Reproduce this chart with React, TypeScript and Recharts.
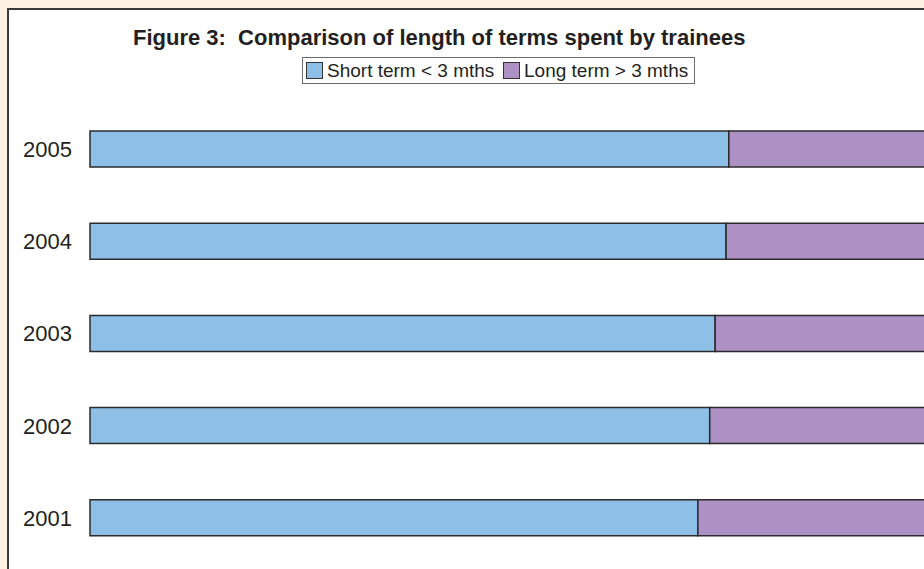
import React from "react";
import { BarChart, Bar, XAxis, YAxis } from "recharts";

const years = ["2001", "2002", "2003", "2004", "2005"];
const shortTerm = [66.8, 68.1, 68.7, 69.9, 70.2];
const longTerm = [33.2, 31.9, 31.3, 30.1, 29.8];

const seriesNames = ["Short term < 3 mths", "Long term > 3 mths"];
const COLORS = ["#8dbfe7", "#ad91c4"];

const FONT = '"Liberation Sans", Arial, sans-serif';

const data = years.map((year, i) => ({
  year,
  short: shortTerm[i],
  long: longTerm[i],
}));

const App = () => {
  return (
    <div
      style={{
        position: "absolute",
        left: 0,
        top: 0,
        width: 924,
        height: 569,
        overflow: "hidden",
        background: "#fdf1e4",
        fontFamily: FONT,
      }}
    >
      <div
        style={{
          position: "absolute",
          left: 7,
          top: 8,
          width: 1100,
          height: 700,
          background: "#ffffff",
          border: "2px solid #3a3a3a",
          boxSizing: "border-box",
        }}
      />
      <div
        style={{
          position: "absolute",
          left: 133,
          top: 27,
          fontSize: 22,
          lineHeight: "22px",
          fontWeight: "bold",
          color: "#231f20",
          whiteSpace: "pre",
        }}
      >
        {"Figure 3:  Comparison of length of terms spent by trainees"}
      </div>
      <div
        style={{
          position: "absolute",
          left: 302,
          top: 57,
          width: 393,
          height: 27,
          border: "1.5px solid #6b6b6b",
          boxSizing: "border-box",
          background: "#ffffff",
        }}
      >
        {seriesNames.map((name, i) => (
          <div
            key={name}
            style={{
              position: "absolute",
              left: i === 0 ? 3 : 200,
              top: 3,
              display: "flex",
              alignItems: "center",
              whiteSpace: "nowrap",
            }}
          >
            <span
              style={{
                display: "inline-block",
                width: 15,
                height: 15,
                background: COLORS[i],
                border: "1px solid #333",
                marginRight: 4,
              }}
            />
            <span style={{ fontSize: 19, lineHeight: "19px", color: "#231f20" }}>
              {name}
            </span>
          </div>
        ))}
      </div>
      <div style={{ position: "absolute", left: 0, top: 0 }}>
        <BarChart
          width={1100}
          height={569}
          data={data}
          layout="vertical"
          margin={{ top: 103, right: 100, bottom: 5, left: 0 }}
          barSize={36}
          barCategoryGap={0}
        >
          <XAxis type="number" domain={[0, 100]} hide />
          <YAxis
            type="category"
            dataKey="year"
            reversed
            width={90}
            axisLine={false}
            tickLine={false}
            tickSize={6}
            tickMargin={12}
            tick={{ fontSize: 22, fill: "#231f20", fontFamily: FONT }}
          />
          <Bar
            dataKey="short"
            name={seriesNames[0]}
            stackId="a"
            fill={COLORS[0]}
            stroke="#2b2b2b"
            strokeWidth={1.5}
            isAnimationActive={false}
          />
          <Bar
            dataKey="long"
            name={seriesNames[1]}
            stackId="a"
            fill={COLORS[1]}
            stroke="#2b2b2b"
            strokeWidth={1.5}
            isAnimationActive={false}
          />
        </BarChart>
      </div>
    </div>
  );
};

export default App;
